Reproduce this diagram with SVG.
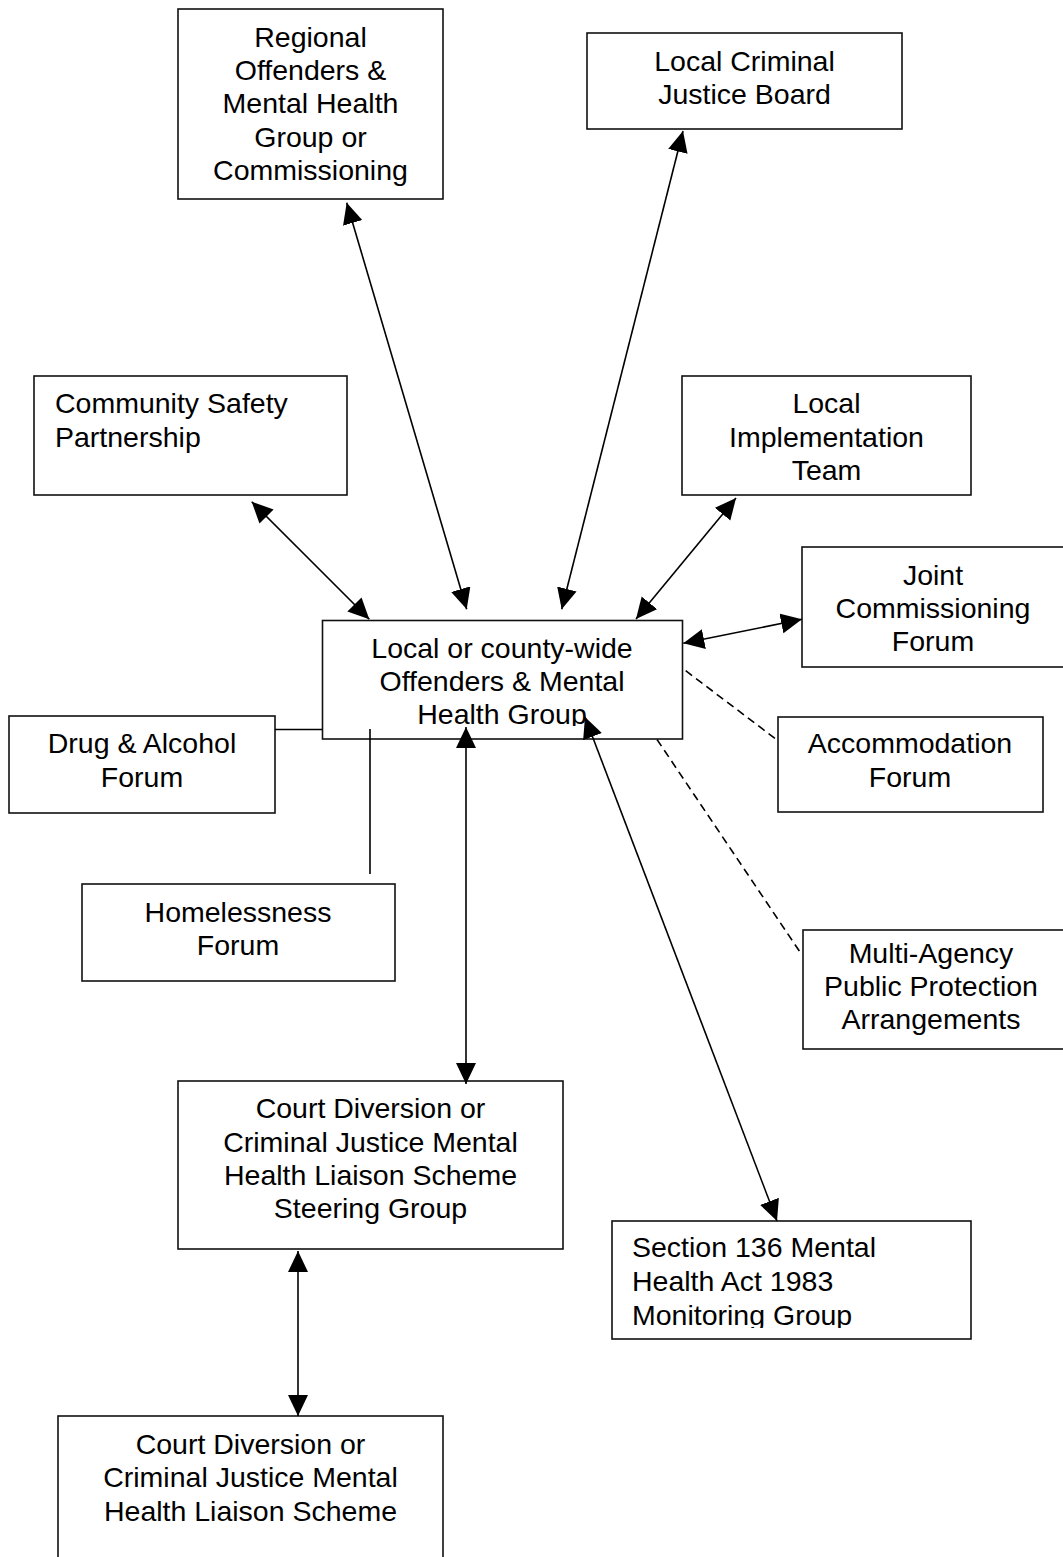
<svg xmlns="http://www.w3.org/2000/svg" width="1063" height="1557" viewBox="0 0 1063 1557">
<style>
.box{fill:#fff;stroke:#111;stroke-width:1.6}
.t{font-family:"Liberation Sans",Arial,sans-serif;font-size:28.5px;fill:#000}
.c{text-anchor:middle}
.ln{fill:none;stroke:#000;stroke-width:1.6}
.dbl{marker-start:url(#ah);marker-end:url(#ah)}
.dash{stroke-dasharray:8 5}
</style>
<defs>
<marker id="ah" markerUnits="userSpaceOnUse" markerWidth="22" markerHeight="21" refX="21" refY="10" orient="auto-start-reverse" viewBox="0 0 22 21">
<path d="M0,0 L21,10 L0,20 z" fill="#000"/>
</marker>
<clipPath id="clipLocal"><rect x="322" y="620" width="361" height="106"/></clipPath>
<clipPath id="clipSection"><rect x="612" y="1221" width="359" height="107"/></clipPath>
</defs>
<rect width="1063" height="1557" fill="#fff"/>

<g id="n-regional">
<rect class="box" x="178" y="9" width="265" height="190"/>
<text class="t c" x="310.5" y="46.7">Regional</text>
<text class="t c" x="310.5" y="80">Offenders &amp;</text>
<text class="t c" x="310.5" y="113.3">Mental Health</text>
<text class="t c" x="310.5" y="146.7">Group or</text>
<text class="t c" x="310.5" y="180">Commissioning</text>
</g>

<g id="n-lcjb">
<rect class="box" x="587" y="33" width="315" height="96"/>
<text class="t c" x="744.5" y="71">Local Criminal</text>
<text class="t c" x="744.5" y="104.3">Justice Board</text>
</g>

<g id="n-csp">
<rect class="box" x="34" y="376" width="313" height="119"/>
<text class="t" x="55" y="413">Community Safety</text>
<text class="t" x="55" y="446.5">Partnership</text>
</g>

<g id="n-lit">
<rect class="box" x="682" y="376" width="289" height="119"/>
<text class="t c" x="826.5" y="413">Local</text>
<text class="t c" x="826.5" y="446.5">Implementation</text>
<text class="t c" x="826.5" y="480">Team</text>
</g>

<g id="n-joint">
<rect class="box" x="802" y="547" width="264" height="120"/>
<text class="t c" x="933" y="584.5">Joint</text>
<text class="t c" x="933" y="618">Commissioning</text>
<text class="t c" x="933" y="651">Forum</text>
</g>

<g id="n-local">
<rect class="box" x="322.5" y="620.5" width="360" height="118.5"/>
<g clip-path="url(#clipLocal)">
<text class="t c" x="502" y="657.7">Local or county-wide</text>
<text class="t c" x="502" y="690.7">Offenders &amp; Mental</text>
<text class="t c" x="502" y="724.2">Health Group</text>
</g>
</g>

<g id="n-drug">
<rect class="box" x="9" y="716" width="266" height="97"/>
<text class="t c" x="142" y="752.7">Drug &amp; Alcohol</text>
<text class="t c" x="142" y="786.7">Forum</text>
</g>

<g id="n-accom">
<rect class="box" x="778" y="717" width="265" height="95"/>
<text class="t c" x="910" y="752.7">Accommodation</text>
<text class="t c" x="910" y="786.7">Forum</text>
</g>

<g id="n-homeless">
<rect class="box" x="82" y="884" width="313" height="97"/>
<text class="t c" x="238" y="921.7">Homelessness</text>
<text class="t c" x="238" y="955">Forum</text>
</g>

<g id="n-mappa">
<rect class="box" x="803" y="930" width="263" height="119"/>
<text class="t c" x="931" y="962.7">Multi-Agency</text>
<text class="t c" x="931" y="996">Public Protection</text>
<text class="t c" x="931" y="1029.3">Arrangements</text>
</g>

<g id="n-steering">
<rect class="box" x="178" y="1081" width="385" height="168"/>
<text class="t c" x="370.5" y="1118.3">Court Diversion or</text>
<text class="t c" x="370.5" y="1151.7">Criminal Justice Mental</text>
<text class="t c" x="370.5" y="1185">Health Liaison Scheme</text>
<text class="t c" x="370.5" y="1218.3">Steering Group</text>
</g>

<g id="n-section">
<rect class="box" x="612" y="1221" width="359" height="118"/>
<g clip-path="url(#clipSection)">
<text class="t" x="632" y="1256.7">Section 136 Mental</text>
<text class="t" x="632" y="1291">Health Act 1983</text>
<text class="t" x="632" y="1325">Monitoring Group</text>
</g>
</g>

<g id="n-court">
<rect class="box" x="58" y="1416" width="385" height="160"/>
<text class="t c" x="250.5" y="1454">Court Diversion or</text>
<text class="t c" x="250.5" y="1487">Criminal Justice Mental</text>
<text class="t c" x="250.5" y="1520.7">Health Liaison Scheme</text>
</g>

<g id="connectors">
<line class="ln dbl" x1="346.7" y1="202.7" x2="466.7" y2="609.3"/>
<line class="ln dbl" x1="683" y1="131" x2="561.7" y2="609.3"/>
<line class="ln dbl" x1="251.7" y1="501.7" x2="369.3" y2="619.3"/>
<line class="ln dbl" x1="736" y1="498" x2="636" y2="619"/>
<line class="ln dbl" x1="683.3" y1="643.3" x2="802" y2="619.3"/>
<line class="ln dbl" x1="466" y1="727" x2="466" y2="1084"/>
<line class="ln dbl" x1="585" y1="717" x2="777" y2="1221"/>
<line class="ln dbl" x1="298" y1="1251" x2="298" y2="1416"/>
<line class="ln" x1="275" y1="729.5" x2="322.5" y2="729.5"/>
<line class="ln" x1="370" y1="729" x2="370" y2="874"/>
<line class="ln dash" x1="685.7" y1="670.7" x2="778" y2="740.7"/>
<line class="ln dash" x1="657" y1="739.5" x2="802" y2="955"/>
</g>
</svg>
